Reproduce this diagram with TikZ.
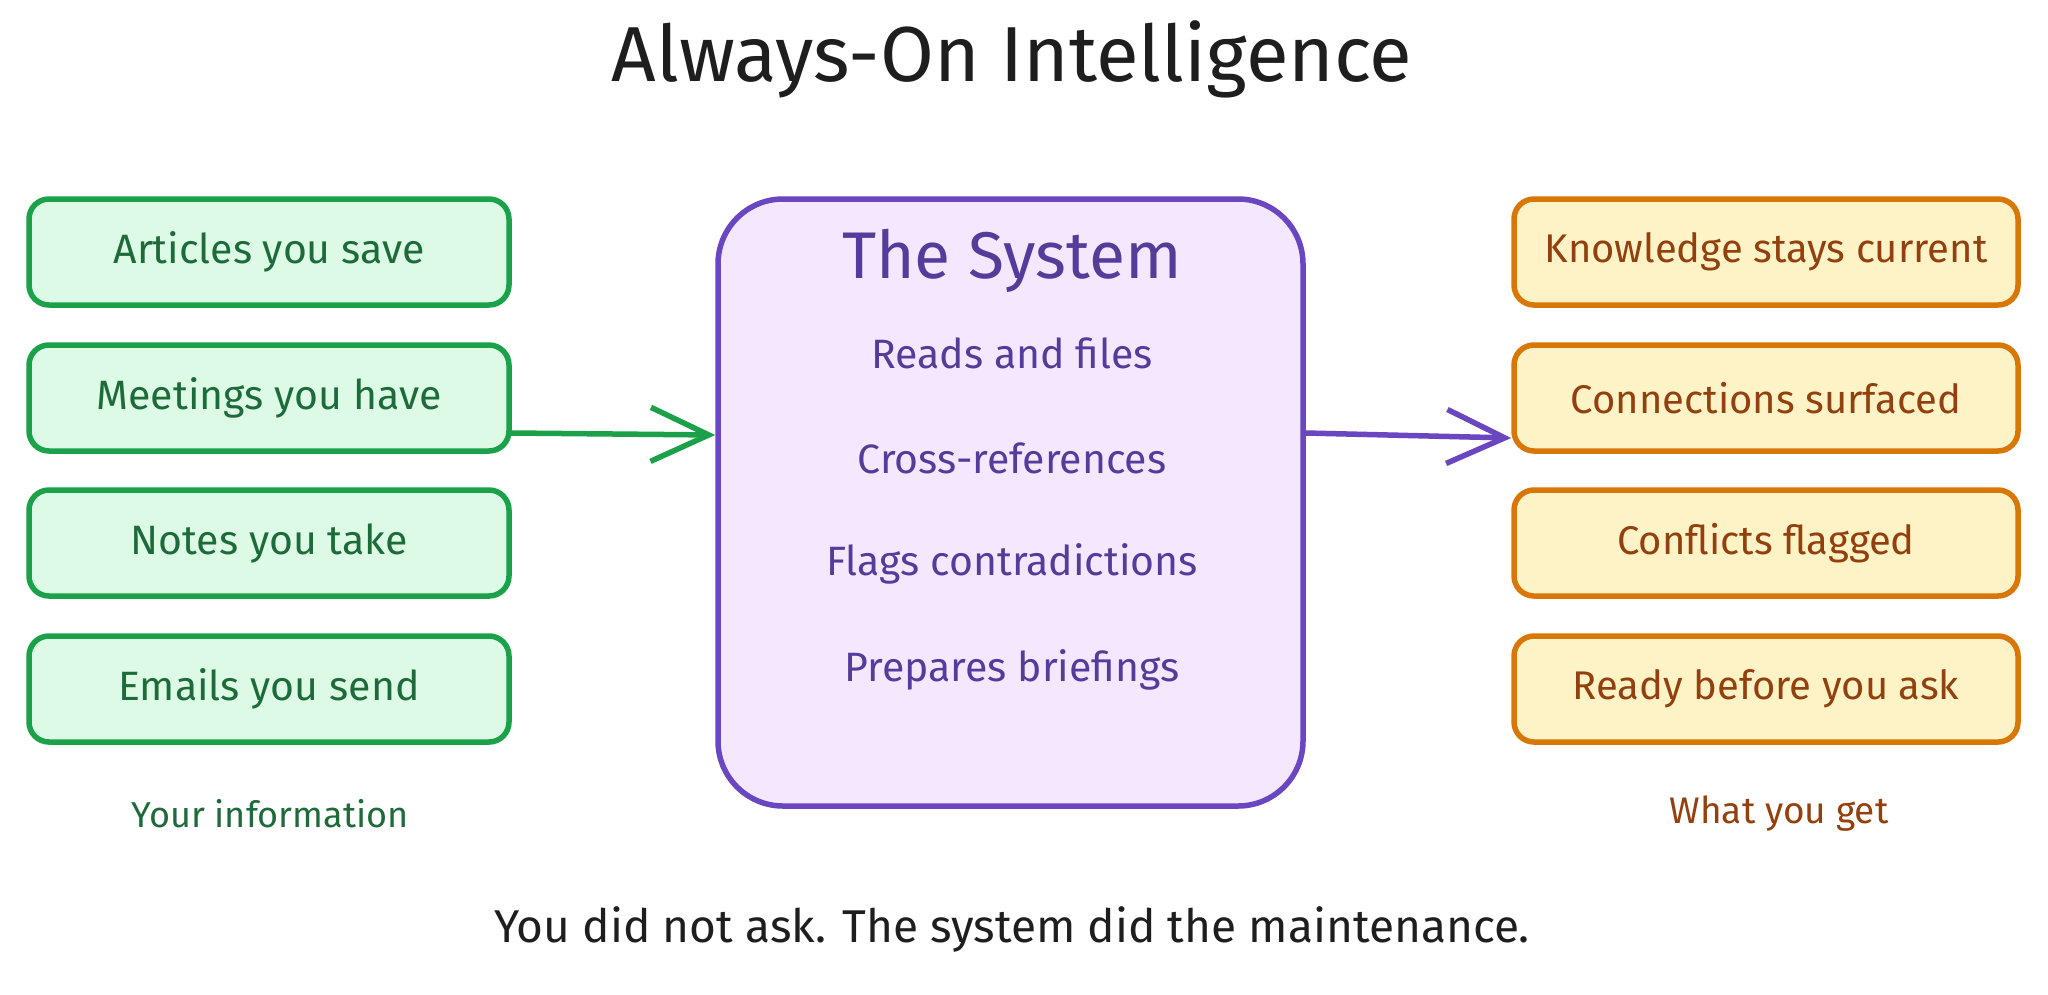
\documentclass[tikz,border=0pt]{standalone}
\usepackage{fontspec}
\setmainfont{Fira Sans}
\usetikzlibrary{arrows.meta}
\definecolor{gstroke}{HTML}{1BA14A}
\definecolor{gfill}{HTML}{DCFAE6}
\definecolor{gtext}{HTML}{1E6B3A}
\definecolor{pstroke}{HTML}{6B46C1}
\definecolor{pfill}{HTML}{F3E8FF}
\definecolor{ptext}{HTML}{553C9A}
\definecolor{ostroke}{HTML}{D97706}
\definecolor{ofill}{HTML}{FEF3C7}
\definecolor{otext}{HTML}{92400E}
\definecolor{ink}{HTML}{1E1E1E}
\tikzset{
  inbox/.style={draw=gstroke, fill=gfill, text=gtext, line width=5.5pt, rounded corners=20pt,
    minimum width=480pt, minimum height=106pt, font=\fontsize{41}{46}\selectfont},
  outbox/.style={draw=ostroke, fill=ofill, text=otext, line width=5.5pt, rounded corners=20pt,
    minimum width=504pt, minimum height=106pt, font=\fontsize{40}{46}\selectfont},
  sysbox/.style={draw=pstroke, fill=pfill, line width=5.5pt, rounded corners=65pt,
    minimum width=585pt, minimum height=607pt},
  systext/.style={text=ptext, font=\fontsize{41}{46}\selectfont},
  arr/.style={line width=5.5pt, line cap=round, -{Straight Barb[length=58pt,width=54pt,line width=5.5pt]}},
}
\begin{document}
\begin{tikzpicture}[x=1pt,y=-1pt]
\useasboundingbox[fill=white] (0,0) rectangle (2048,994);
\node[text=ink, font=\fontsize{78}{88}\selectfont] (title) at (1012,59) {Always-On Intelligence};

\node[inbox] (a1) at (269,252) {Articles you save};
\node[inbox] (a2) at (269,398) {Meetings you have};
\node[inbox] (a3) at (269,543) {Notes you take};
\node[inbox] (a4) at (269,689) {Emails you send};

\node[sysbox] (sys) at (1010.5,502.5) {};
\node[text=ptext, font=\fontsize{66}{72}\selectfont] (systitle) at (1012,261) {The System};
\node[systext] (s1) at (1012,353) {Reads and files};
\node[systext] (s2) at (1012,458) {Cross-references};
\node[systext] (s3) at (1012,564) {Flags contradictions};
\node[systext] (s4) at (1012,670) {Prepares briefings};

\node[outbox] (b1) at (1766,252) {Knowledge stays current};
\node[outbox] (b2) at (1766,398) {Connections surfaced};
\node[outbox] (b3) at (1766,543) {Conflicts flagged};
\node[outbox] (b4) at (1766,689) {Ready before you ask};

\node[text=gtext, font=\fontsize{36}{40}\selectfont] (lin) at (270,814) {Your information};
\node[text=otext, font=\fontsize{37}{40}\selectfont] (lout) at (1779,814) {What you get};
\node[text=ink, font=\fontsize{46}{52}\selectfont] (foot) at (1012,929) {You did not ask. The system did the maintenance.};

\draw[arr, gstroke] ([yshift=-35pt]a2.east) -- ([yshift=-37pt]a2.east -| sys.west);
\draw[arr, pstroke] ([yshift=-35pt]a2.east -| sys.east) -- ([yshift=-40pt]b2.west);
\end{tikzpicture}
\end{document}
